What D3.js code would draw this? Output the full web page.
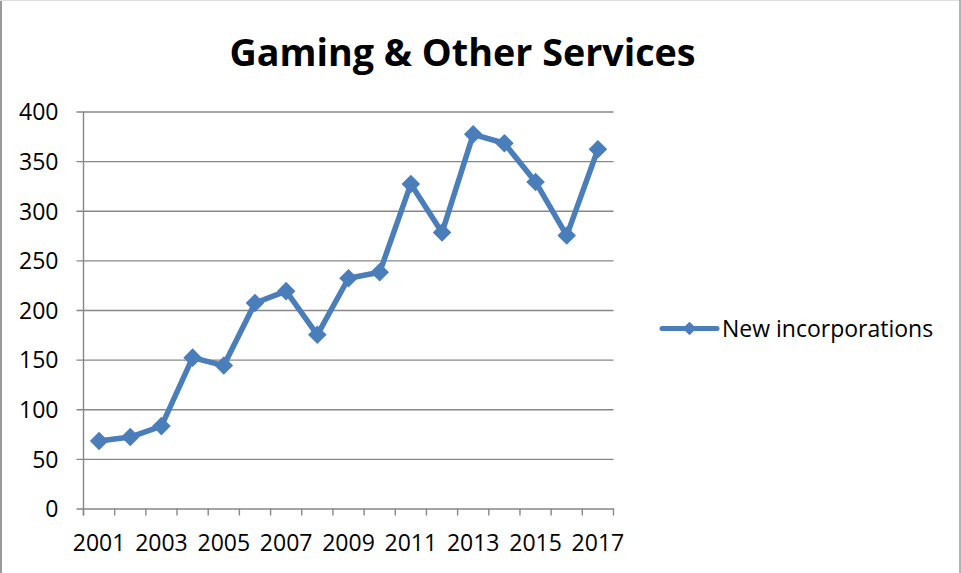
<!DOCTYPE html>
<html>
<head>
<meta charset="utf-8">
<script src="https://cdn.jsdelivr.net/npm/d3@7"></script>
<style>
  html, body { margin: 0; padding: 0; background: #fff; }
  svg { display: block; }
  text { font-family: "Open Sans", "Liberation Sans", sans-serif; fill: #000; }
</style>
</head>
<body>
<div id="chart"></div>
<script>
// Data
const years = ['2001','2002','2003','2004','2005','2006','2007','2008','2009',
               '2010','2011','2012','2013','2014','2015','2016','2017'];
const incorporations = [68, 72, 83, 152, 144, 207, 219, 175, 232, 238, 327, 278, 377, 368, 329, 275, 362];
const yTicks = [0, 50, 100, 150, 200, 250, 300, 350, 400];
const xLabels = years.filter((d, i) => i % 2 === 0);
const seriesName = 'New incorporations';
const chartTitle = 'Gaming & Other Services';

const width = 961, height = 573;
const plot = {left: 83.5, right: 613.5, top: 111.5, bottom: 508.5};
const blue = '#4A7EBB';
const gridColor = '#878787';
const labelSize = '23px';

const svg = d3.select('#chart').append('svg')
    .attr('width', width)
    .attr('height', height);

// chart frame
svg.append('line').attr('x1', 1).attr('x2', 1).attr('y1', 0).attr('y2', height)
    .attr('stroke', '#9a9a9a').attr('stroke-width', 2);
svg.append('line').attr('x1', 0).attr('x2', width).attr('y1', 0.5).attr('y2', 0.5)
    .attr('stroke', '#dedede').attr('stroke-width', 1);
svg.append('line').attr('x1', 960).attr('x2', 960).attr('y1', 0).attr('y2', height)
    .attr('stroke', '#9a9a9a').attr('stroke-width', 1.5);

const x = d3.scaleBand().domain(years).range([plot.left, plot.right]);
const y = d3.scaleLinear().domain([0, 400]).range([plot.bottom, plot.top]);

// horizontal gridlines + y axis
const yAxis = d3.axisLeft(y).tickValues(yTicks).tickSize(7).tickPadding(18);
const yG = svg.append('g')
    .attr('transform', `translate(${plot.left},0)`)
    .call(yAxis);
yG.select('.domain').remove();
yG.selectAll('.tick line')
    .attr('x2', plot.right - plot.left)
    .attr('x1', -7)
    .attr('stroke', gridColor)
    .attr('stroke-width', 1.4);
yG.selectAll('.tick text')
    .style('font-size', labelSize)
    .attr('x', -25)
    .attr('dy', '0.36em');

// x axis
const xAxis = d3.axisBottom(x).tickSize(0).tickFormat(d => xLabels.includes(d) ? d : '');
const xG = svg.append('g')
    .attr('transform', `translate(0,${plot.bottom})`)
    .call(xAxis);
xG.select('.domain').remove();
xG.selectAll('.tick text')
    .style('font-size', labelSize)
    .attr('y', 26)
    .attr('dy', '0.71em');

// category boundary ticks
const edges = years.map(d => x(d)).concat([plot.right]);
svg.append('g').selectAll('line')
    .data(edges)
    .join('line')
    .attr('x1', d => d).attr('x2', d => d)
    .attr('y1', plot.bottom).attr('y2', plot.bottom + 7)
    .attr('stroke', gridColor).attr('stroke-width', 1.4);

// y axis line
svg.append('line')
    .attr('x1', plot.left).attr('x2', plot.left)
    .attr('y1', plot.top).attr('y2', plot.bottom + 7)
    .attr('stroke', gridColor).attr('stroke-width', 1.4);

const cx = d => x(d) + x.bandwidth() / 2;
const points = years.map((d, i) => ({year: d, value: incorporations[i]}));

// the series line
const line = d3.line()
    .x(d => cx(d.year))
    .y(d => y(d.value));

svg.append('path')
    .datum(points)
    .attr('d', line)
    .attr('fill', 'none')
    .attr('stroke', blue)
    .attr('stroke-width', 5.5)
    .attr('stroke-linejoin', 'round')
    .attr('stroke-linecap', 'round');

const diamond = d3.symbol().type(d3.symbolDiamond2).size(220);

svg.append('g').selectAll('path')
    .data(points)
    .join('path')
    .attr('d', diamond)
    .attr('transform', d => `translate(${cx(d.year)},${y(d.value)})`)
    .attr('fill', blue);

// legend
const legend = svg.append('g').attr('transform', 'translate(662,328.5)');
legend.append('line')
    .attr('x1', 0).attr('x2', 55)
    .attr('stroke', blue).attr('stroke-width', 5)
    .attr('stroke-linecap', 'round');
legend.append('path')
    .attr('d', d3.symbol().type(d3.symbolDiamond2).size(120))
    .attr('transform', 'translate(27.5,0)')
    .attr('fill', blue);
legend.append('text')
    .attr('x', 60)
    .attr('dy', '0.36em')
    .style('font-size', labelSize)
    .text(seriesName);

// title
const title = svg.append('text')
    .attr('x', 462.5)
    .attr('y', 66)
    .attr('text-anchor', 'middle')
    .style('font-size', '38px')
    .style('font-weight', 'bold')
    .text(chartTitle);
// fit title to the width seen in the picture
const tw = title.node().getComputedTextLength();
title.style('font-size', (38 * 466 / tw).toFixed(1) + 'px');
</script>
</body>
</html>
